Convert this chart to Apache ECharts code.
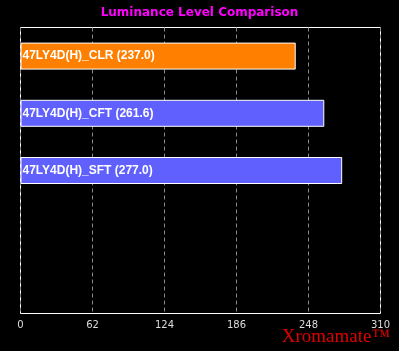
<!DOCTYPE html>
<html><head><meta charset="utf-8">
<script src="https://cdn.jsdelivr.net/npm/echarts@6/dist/echarts.min.js"></script>
<style>html,body{margin:0;padding:0;background:#000;}#c{width:399px;height:351px;}</style>
</head><body><div id="c"></div>
<script>
const categories = ['47LY4D(H)_CLR', '47LY4D(H)_CFT', '47LY4D(H)_SFT', '', ''];
const values = [237.0, 261.6, 277.0, null, null];
const barColors = ['#ff8000', '#6060ff', '#6060ff'];
const tickValues = [0, 62, 124, 186, 248, 310];

const chart = echarts.init(document.getElementById('c'), null, {renderer: 'canvas'});
chart.setOption({
  backgroundColor: '#000',
  animation: false,
  title: {
    text: 'Luminance Level Comparison', left: 'center', top: 2,
    textStyle: {color: '#ff00ff', fontSize: 12, fontWeight: 'bold', fontFamily: 'DejaVu Sans'}
  },
  graphic: [{
    type: 'text', right: 9, top: 328,
    style: {text: 'Xromamate™', fill: '#dd0000', font: '19px "Liberation Serif"'}
  }],
  grid: {left: 20.5, right: 18.5, top: 27.5, bottom: 37.5, show: true, borderColor: '#fff', borderWidth: 1, backgroundColor: 'transparent'},
  xAxis: {
    type: 'value', min: tickValues[0], max: tickValues[tickValues.length - 1], interval: 62,
    axisLine: {show: false}, axisTick: {show: false},
    axisLabel: {color: '#ddd', fontSize: 10, fontFamily: 'DejaVu Sans', margin: 7},
    splitLine: {show: true, lineStyle: {color: '#888', type: [4, 3], width: 1}}
  },
  yAxis: {
    type: 'category', data: categories, inverse: true,
    axisLine: {show: false}, axisTick: {show: false}, axisLabel: {show: false}, splitLine: {show: false}
  },
  series: [{
    type: 'bar', barWidth: 27,
    data: values.map((v, i) => v == null ? null : {value: v, itemStyle: {color: barColors[i]}}),
    itemStyle: {borderColor: '#fff', borderWidth: 1},
    label: {
      show: true, position: 'insideLeft', offset: [-3, 0], color: '#fff', fontSize: 12, fontWeight: 'bold', fontFamily: 'Liberation Sans',
      formatter: p => p.name + ' (' + p.value.toFixed(1) + ')'
    }
  }]
});
</script></body></html>
